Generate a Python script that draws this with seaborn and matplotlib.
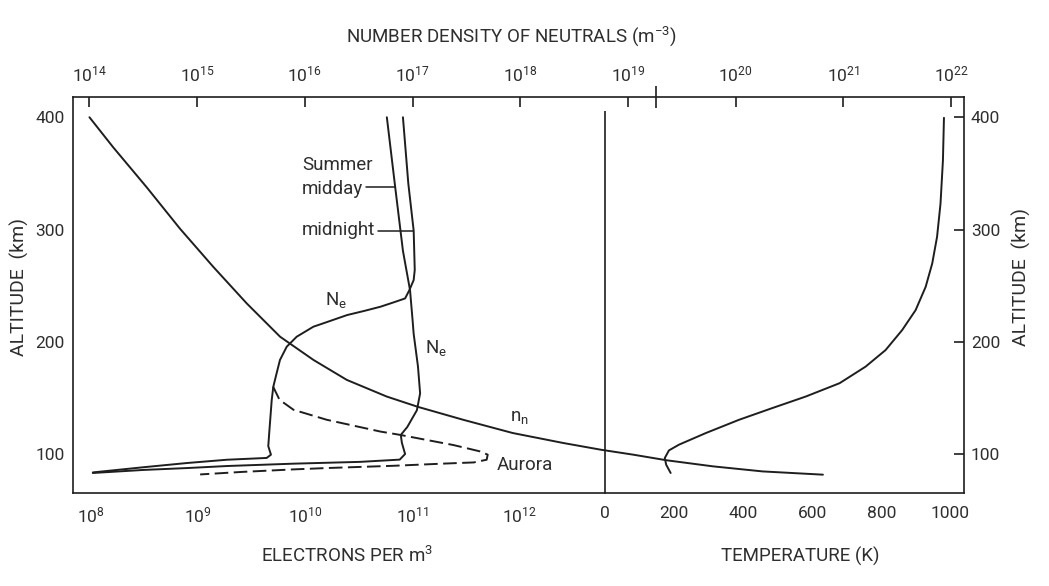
import numpy as np
import pandas as pd
import seaborn as sns
import matplotlib
matplotlib.use("Agg")
import matplotlib.pyplot as plt
from matplotlib import font_manager as fm
from matplotlib.lines import Line2D
from matplotlib.ticker import FixedLocator, FixedFormatter, NullLocator

# ---------------- data ----------------
# Electron density, summer midday (log10 m^-3) vs altitude (km)
midday_log_ne = [10.76, 10.84, 10.91, 10.976, 11.00, 11.01, 11.05, 11.07, 11.04, 10.95,
                 10.89, 10.90, 10.93, 10.88, 10.51, 9.89, 9.27, 8.90, 8.49, 8.02]
midday_alt = [400, 336, 281, 246, 219, 207, 178, 154, 139, 124,
              117, 110, 100, 95, 93, 91.4, 89.3, 87.5, 85.8, 83.1]

# Electron density, summer midnight
midnight_log_ne = [10.91, 10.96, 11.01, 11.02, 11.01, 10.97, 10.93, 10.82, 10.70, 10.55,
                   10.39, 10.20, 10.075, 9.92, 9.827, 9.764, 9.733, 9.702, 9.687, 9.664,
                   9.655, 9.68, 9.64, 9.27, 8.90, 8.49, 8.02]
midnight_alt = [400, 341, 299, 264, 255, 246, 238.6, 235, 231.2, 227.5,
                223.8, 217.5, 213.4, 204.5, 195.6, 183.8, 172, 160, 148, 119,
                107, 99.4, 96.5, 94.9, 92, 88.2, 83.6]

# Electron density, aurora (dashed)
aurora_log_ne = [9.70, 9.76, 9.89, 10.20, 10.70, 10.88, 11.38, 11.63, 11.70, 11.69,
                 11.57, 11.30, 10.82, 10.20, 9.89, 9.40, 9.02]
aurora_alt = [160, 148.3, 139.4, 130.5, 120, 117.1, 108, 102.3, 99.4, 94.9,
              92.5, 91.5, 89.5, 87.5, 86.3, 84, 81.8]

# Neutral number density (log10 m^-3, top axis)
nn_log = [14.00, 14.22, 14.53, 14.84, 15.15, 15.46, 15.77, 16.08, 16.39, 16.76,
          17.05, 17.47, 17.93, 18.40, 18.75, 19.05, 19.36, 19.79, 20.25, 20.81]
nn_alt = [400, 373.3, 337.8, 300.8, 266.7, 234.2, 204.5, 183.8, 166, 151.2,
          142, 130.5, 118.7, 109.8, 103.8, 99.4, 94.4, 89, 84.5, 81.6]

# Temperature (K)
temp_k = [981, 978, 971, 961, 947, 928, 899, 860, 812, 754,
          679, 581, 484, 388, 292, 214, 185, 173, 177, 190]
temp_alt = [399.5, 361.5, 323, 293.4, 269.7, 248.9, 228.2, 210.4, 192.6, 177.8,
            163.1, 151.2, 140.9, 130.5, 118.7, 108.3, 103.2, 96.4, 90.5, 83.1]

alt_ticks = [100, 200, 300, 400]
ne_ticks = [8, 9, 10, 11, 12]
nn_ticks = [14, 15, 16, 17, 18, 19, 20, 21, 22]
temp_ticks = [0, 100, 200, 300, 400, 500, 600, 700, 800, 900, 1000]
temp_labels = ["0", "", "200", "", "400", "", "600", "", "800", "", "1000"]

# ---------------- style ----------------
sns.set_theme(style="white")
names = {f.name for f in fm.fontManager.ttflist}
if "Roboto" in names:
    FAM, K = "Roboto", 1.0
else:
    FAM, K = "DejaVu Sans", 0.9
plt.rcParams["font.family"] = [FAM, "DejaVu Sans"]
plt.rcParams["mathtext.fontset"] = "custom"
plt.rcParams["mathtext.rm"] = FAM
plt.rcParams["mathtext.it"] = FAM
plt.rcParams["mathtext.bf"] = FAM

INK = "#1e1e1e"
TXT = "#2e2e2e"
TICK = 12.5 * K
LAB = 13.5 * K
YLAB = 14 * K
ANN = 13.5 * K
LW = 1.4

W, H = 1049, 586
fig = plt.figure(figsize=(W / 100, H / 100), dpi=100)
fig.patch.set_facecolor("white")


def fx(p):
    return p / W


def fy(p):
    return 1 - p / H


L, B, T, R, D = 73.3, 493.3, 96.5, 964.0, 605.0
YLIM = (65, 418.5)

ax1 = fig.add_axes([fx(L), fy(B), fx(D) - fx(L), fy(T) - fy(B)])
ax2 = fig.add_axes([fx(D), fy(B), fx(R) - fx(D), fy(T) - fy(B)])
ax3 = fig.add_axes([fx(L), fy(B), fx(R) - fx(L), fy(T) - fy(B)], zorder=3)
ax3.patch.set_visible(False)

for ax in (ax1, ax2, ax3):
    ax.set_facecolor("white")
    for s in ax.spines.values():
        s.set_color(INK)
        s.set_linewidth(1.2)


def draw(ax, x, y, **kw):
    sns.lineplot(x=x, y=y, ax=ax, sort=False, estimator=None, color=INK,
                 linewidth=LW, legend=False, **kw)


# ---- left panel: electrons ----
ax1.set_xscale("log")
draw(ax1, 10 ** np.array(midday_log_ne), midday_alt)
draw(ax1, 10 ** np.array(midnight_log_ne), midnight_alt)
draw(ax1, 10 ** np.array(aurora_log_ne), aurora_alt, linestyle=(0, (7, 2.8)))
ax1.set_xlim(10 ** 7.838, 10 ** 12.793)
ax1.set_ylim(*YLIM)
ax1.spines["top"].set_visible(False)
ax1.spines["right"].set_visible(False)
ax1.xaxis.set_major_locator(FixedLocator([10.0 ** e for e in ne_ticks]))
ax1.xaxis.set_major_formatter(FixedFormatter([r"$10^{%d}$" % e for e in ne_ticks]))
ax1.xaxis.set_minor_locator(NullLocator())
ax1.set_yticks(alt_ticks)
ax1.set_yticklabels([str(v) for v in alt_ticks])
ax1.tick_params(axis="both", direction="in", length=7, width=1.2, colors=INK,
                labelcolor=TXT, labelsize=TICK)
ax1.tick_params(axis="x", pad=9)
ax1.tick_params(axis="y", pad=6)
ax1.set_xlabel("")
ax1.set_ylabel("")

# ---- right panel: temperature ----
draw(ax2, temp_k, temp_alt)
ax2.set_xlim(0, 1039)
ax2.set_ylim(*YLIM)
ax2.spines["top"].set_visible(False)
ax2.spines["left"].set_visible(False)
ax2.vlines(0, YLIM[0], 406, color=INK, linewidth=1.2, clip_on=False)
ax2.set_xticks(temp_ticks)
ax2.set_xticklabels(temp_labels)
ax2.yaxis.tick_right()
ax2.set_yticks(alt_ticks)
ax2.set_yticklabels([str(v) for v in alt_ticks])
ax2.tick_params(axis="both", direction="in", length=7, width=1.2, colors=INK,
                labelcolor=TXT, labelsize=TICK)
ax2.tick_params(axis="x", pad=9)
ax2.tick_params(axis="y", pad=5, left=False, right=True, labelleft=False, labelright=True)
ax2.set_xlabel("")
ax2.set_ylabel("")

# ---- overlay: neutral density (top axis) ----
ax3.set_xscale("log")
draw(ax3, 10 ** np.array(nn_log), nn_alt)
ax3.set_xlim(10 ** 13.85, 10 ** 22.12)
ax3.set_ylim(*YLIM)
for s in ("left", "right", "bottom"):
    ax3.spines[s].set_visible(False)
ax3.set_yticks([])
ax3.xaxis.tick_top()
ax3.xaxis.set_major_locator(FixedLocator([10.0 ** e for e in nn_ticks]))
ax3.xaxis.set_major_formatter(FixedFormatter([r"$10^{%d}$" % e for e in nn_ticks]))
ax3.xaxis.set_minor_locator(FixedLocator([10 ** 19.26]))
ax3.tick_params(axis="x", which="major", direction="in", length=7, width=1.2,
                colors=INK, labelcolor=TXT, labelsize=TICK, pad=9)
ax3.tick_params(axis="x", which="minor", direction="inout", length=16, width=1.2,
                colors=INK)
ax3.set_xlabel("")
ax3.set_ylabel("")

# ---------------- text ----------------
def ftext(x, y, s, size, **kw):
    kw.setdefault("ha", "center")
    kw.setdefault("va", "center")
    fig.text(fx(x), fy(y), s, fontsize=size, color=TXT, **kw)


ftext(19, 287, "ALTITUDE  (km)", YLAB, rotation=90)
ftext(1021, 277, "ALTITUDE  (km)", YLAB, rotation=90)
ftext(511, 36, r"NUMBER DENSITY OF NEUTRALS (m$^{-3}$)", LAB)
ftext(347, 556, r"ELECTRONS PER m$^{3}$", LAB)
ftext(800, 556, "TEMPERATURE (K)", LAB)

ftext(302, 170, "Summer", ANN, ha="left", va="baseline")
ftext(302, 194, "midday", ANN, ha="left", va="baseline")
ftext(302, 235, "midnight", ANN, ha="left", va="baseline")
ftext(325, 305, r"N$_\mathrm{e}$", ANN, ha="left", va="baseline")
ftext(425, 353, r"N$_\mathrm{e}$", ANN, ha="left", va="baseline")
ftext(510, 421, r"n$_\mathrm{n}$", ANN, ha="left", va="baseline")
ftext(497, 470, "Aurora", ANN, ha="left", va="baseline")

for (x1, x2, y) in [(366, 395, 187.3), (377.5, 412.7, 230.7)]:
    fig.add_artist(Line2D([fx(x1), fx(x2)], [fy(y), fy(y)], transform=fig.transFigure,
                          color=INK, linewidth=1.1))

fig.savefig("out.png", dpi=100, facecolor="white")
